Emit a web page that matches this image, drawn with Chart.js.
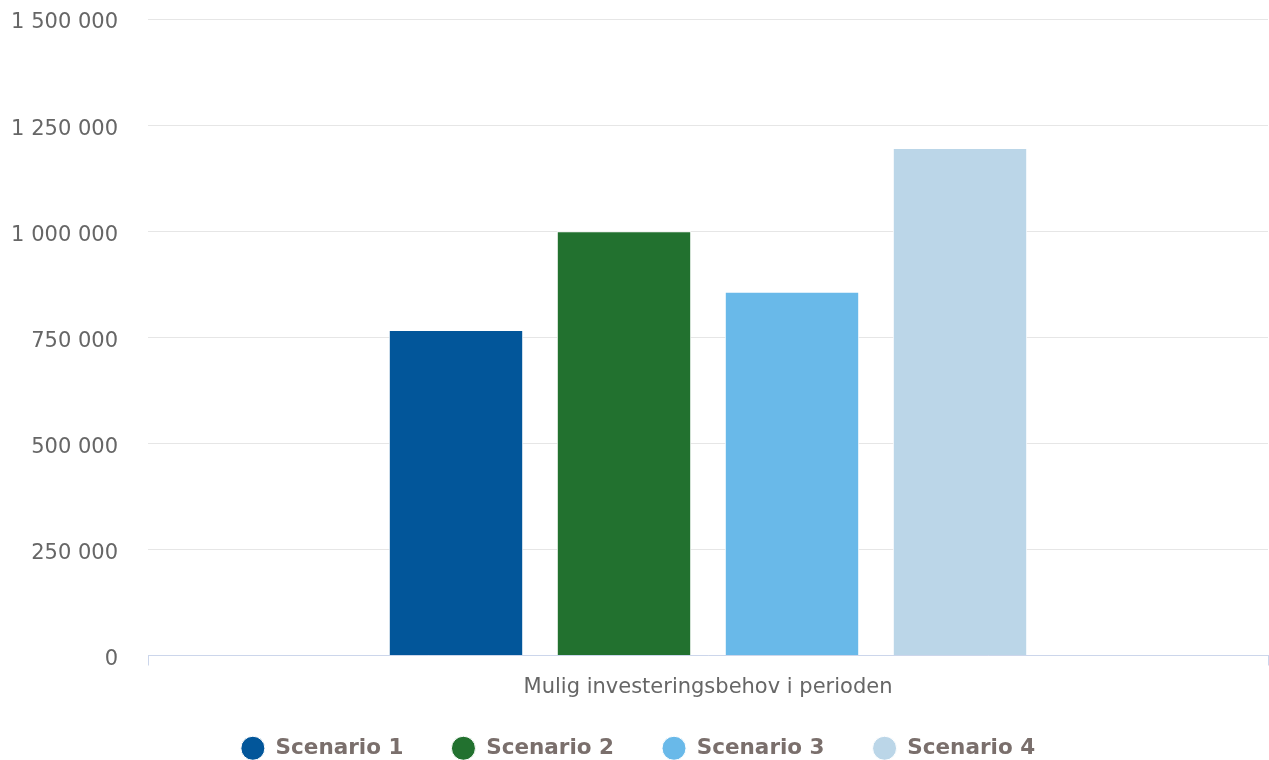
<!DOCTYPE html>
<html>
<head>
<meta charset="utf-8">
<script src="https://cdn.jsdelivr.net/npm/chart.js@4/dist/chart.umd.min.js"></script>
<style>
html,body{margin:0;padding:0;background:#fff;}
#wrap{width:1269px;height:760px;}
</style>
</head>
<body>
<div id="wrap"><canvas id="c" width="1269" height="760"></canvas></div>
<script>
const categories = ['Mulig investeringsbehov i perioden'];
const seriesNames = ['Scenario 1', 'Scenario 2', 'Scenario 3', 'Scenario 4'];
const scenario1 = [767000];
const scenario2 = [1000000];
const scenario3 = [857000];
const scenario4 = [1196000];
const seriesColors = ['#02569a', '#22712f', '#69b9e9', '#bbd6e8'];
const yTicks = [0, 250000, 500000, 750000, 1000000, 1250000, 1500000];

const seriesValues = [scenario1, scenario2, scenario3, scenario4];
const fmt = v => String(v).replace(/\B(?=(\d{3})+(?!\d))/g, ' ');

new Chart(document.getElementById('c'), {
  type: 'bar',
  data: {
    labels: categories,
    datasets: seriesValues.map((vals, i) => ({
      label: seriesNames[i],
      data: vals,
      backgroundColor: seriesColors[i],
      borderColor: '#ffffff',
      borderWidth: 1,
      categoryPercentage: 0.6,
      barPercentage: 0.8
    }))
  },
  options: {
    responsive: false,
    animation: false,
    layout: { padding: { top: 19, right: 1, left: 8, bottom: -9 } },
    scales: {
      x: {
        afterFit: s => { s.height = 34; s.paddingLeft = 0; s.paddingRight = 0; },
        grid: { display: true, drawOnChartArea: false, drawTicks: true, tickLength: 10, color: '#ccd6eb', offset: true },
        border: { display: true, color: '#ccd6eb', width: 1 },
        ticks: { display: false },
        title: {
          display: true,
          text: categories[0],
          color: '#666666',
          font: { family: 'DejaVu Sans', size: 21 },
          padding: { top: 0, bottom: -11 }
        }
      },
      y: {
        min: 0,
        max: 1500000,
        afterFit: s => { s.width = 140; s.paddingTop = 0; s.paddingBottom = 0; },
        afterBuildTicks: s => { s.ticks = yTicks.map(v => ({ value: v })); },
        grid: { color: '#e6e6e6', drawTicks: false },
        border: { display: false },
        ticks: {
          color: '#666666',
          font: { family: 'DejaVu Sans', size: 21 },
          padding: 30,
          labelOffset: 4,
          callback: v => fmt(v)
        }
      }
    },
    plugins: {
      tooltip: { enabled: false },
      legend: {
        position: 'bottom',
        labels: {
          usePointStyle: true,
          pointStyle: 'circle',
          pointStyleWidth: 24,
          boxHeight: 17,
          padding: 48,
          color: '#7a6f6c',
          font: { family: 'DejaVu Sans', size: 21.5, weight: 'bold' }
        }
      }
    }
  }
});
</script>
</body>
</html>
